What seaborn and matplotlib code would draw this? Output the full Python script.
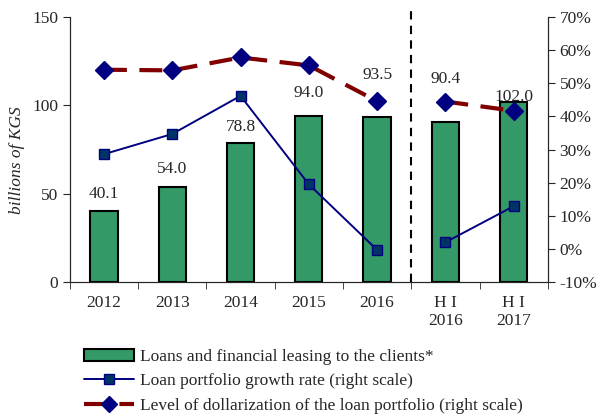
import numpy as np
import pandas as pd
import seaborn as sns
import matplotlib.pyplot as plt
from matplotlib.lines import Line2D
from matplotlib.patches import Patch

periods = ["2012", "2013", "2014", "2015", "2016", "H I\n2016", "H I\n2017"]
loans = [40.1, 54.0, 78.8, 94.0, 93.5, 90.4, 102.0]
growth = [28.6, 34.7, 46.2, 19.5, -0.3, 2.0, 12.9]
dollar = [54.1, 53.9, 57.8, 55.4, 44.6, 44.5, 41.7]

# label lift above bar top, in pixels (labels moved clear of the lines)
label_lift = [17, 18, 16, 23, 42, 43, 5]

sns.set_style("ticks")
plt.rcParams['font.family'] = ['Liberation Serif', 'DejaVu Serif']
plt.rcParams['font.size'] = 12.5

df = pd.DataFrame({"period": periods, "loans": loans})

fig = plt.figure(figsize=(6.02, 4.16), dpi=100)
ax = fig.add_axes([0.116, 0.322, 0.794, 0.637])

sns.barplot(data=df, x="period", y="loans", color="#339966", saturation=1,
            edgecolor="black", linewidth=1.5, width=0.4, ax=ax)
ax.set_ylim(0, 150)
ax.set_yticks([0, 50, 100, 150])
ax.set_xlim(-0.5, 6.5)
ax.set_xlabel("")
ax.set_ylabel("billions of KGS", style="italic")
ax.yaxis.set_label_coords(-0.094, 0.46)
for i, v in enumerate(loans):
    ax.annotate(f"{v:.1f}", (i, v), xytext=(0, label_lift[i] * 0.72),
                textcoords="offset points", ha="center", va="center")

# ticks between categories
ax.set_xticks(np.arange(7))
ax.tick_params(axis="x", length=0, pad=9)
ax.set_xticks(np.arange(-0.5, 7, 1), minor=True)
ax.tick_params(axis="x", which="minor", length=5, direction="out")
ax.tick_params(axis="y", length=5, direction="out")
ax.spines["top"].set_visible(False)

ax2 = ax.twinx()
ax2.set_ylim(-10, 70)
ax2.set_yticks(range(-10, 71, 10))
ax2.set_yticklabels([f"{t}%" for t in range(-10, 71, 10)])
ax2.tick_params(axis="y", length=5, direction="out")
ax2.spines["top"].set_visible(False)

x = np.arange(7)
for seg in (slice(0, 5), slice(5, 7)):
    ax2.plot(x[seg], dollar[seg], color="#800000", lw=3, ls=(0, (5.5, 3)),
             marker="D", ms=9, mfc="#000080", mec="#000080", zorder=3)
    ax2.plot(x[seg], growth[seg], color="#000080", lw=1.4,
             marker="s", ms=7.5, mfc="#003366", mec="#000080", zorder=3)

ax2.plot([4.5, 4.5], [-10, 73], color="black", lw=1.5, ls=(0, (4, 3)), clip_on=False)

handles = [
    Patch(facecolor="#339966", edgecolor="black", linewidth=1.5),
    Line2D([], [], color="#000080", lw=1.4, marker="s", ms=7.5, mfc="#003366", mec="#000080"),
    Line2D([], [], color="#800000", lw=3, ls=(0, (5.5, 3)), marker="D", ms=8, mfc="#000080", mec="#000080"),
]
labels = ["Loans and financial leasing to the clients*",
          "Loan portfolio growth rate (right scale)",
          "Level of dollarization of the loan portfolio (right scale)"]
fig.legend(handles, labels, loc="upper left", bbox_to_anchor=(0.125, 0.183),
           frameon=False, handlelength=2.9, handleheight=0.7, labelspacing=0.48,
           borderpad=0, handletextpad=0.35)

fig.savefig("out.png", dpi=100)
